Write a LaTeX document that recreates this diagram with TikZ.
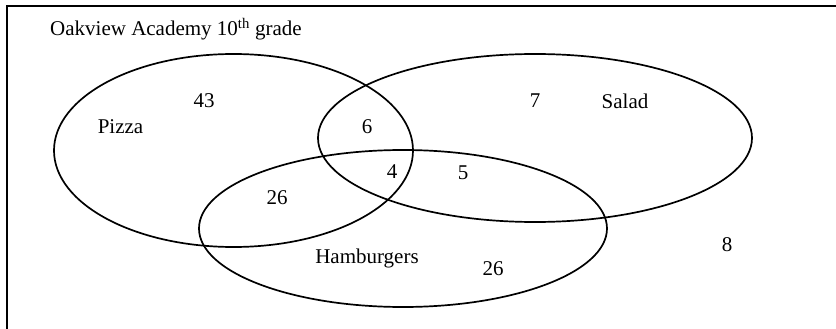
\documentclass[tikz,border=0pt]{standalone}
\usepackage{fontspec}
\setmainfont{Liberation Serif}
\begin{document}
\begin{tikzpicture}[x=1pt,y=-1pt,
  lbl/.style={inner sep=0pt,font=\fontsize{21}{25}\selectfont},
  ring/.style={line width=1.7pt},
  frame/.style={line width=2pt}]
\useasboundingbox (0,0) rectangle (836,329);
\draw[frame] (7,329) -- (7,6) -- (836,6);
% ellipses
\draw[ring] (233.5,150.5) ellipse [x radius=179.5, y radius=96.5];
\draw[ring] (535,138) ellipse [x radius=217, y radius=84];
\draw[ring] (403,228.5) ellipse [x radius=204, y radius=78.5];
% labels
\node[lbl,anchor=base west] (title) at (50,36) {Oakview Academy 10\textsuperscript{th} grade};
\node[lbl] (n43) at (204,101) {43};
\node[lbl] (pizza) at (120.5,127) {Pizza};
\node[lbl] (n6) at (367,127) {6};
\node[lbl] (n7) at (535,101) {7};
\node[lbl] (salad) at (625,101) {Salad};
\node[lbl] (n4) at (392,172) {4};
\node[lbl] (n5) at (463,173) {5};
\node[lbl] (n26a) at (277,198) {26};
\node[lbl] (ham) at (367,258) {Hamburgers};
\node[lbl] (n26b) at (493,269) {26};
\node[lbl] (n8) at (727,245) {8};
\end{tikzpicture}
\end{document}
